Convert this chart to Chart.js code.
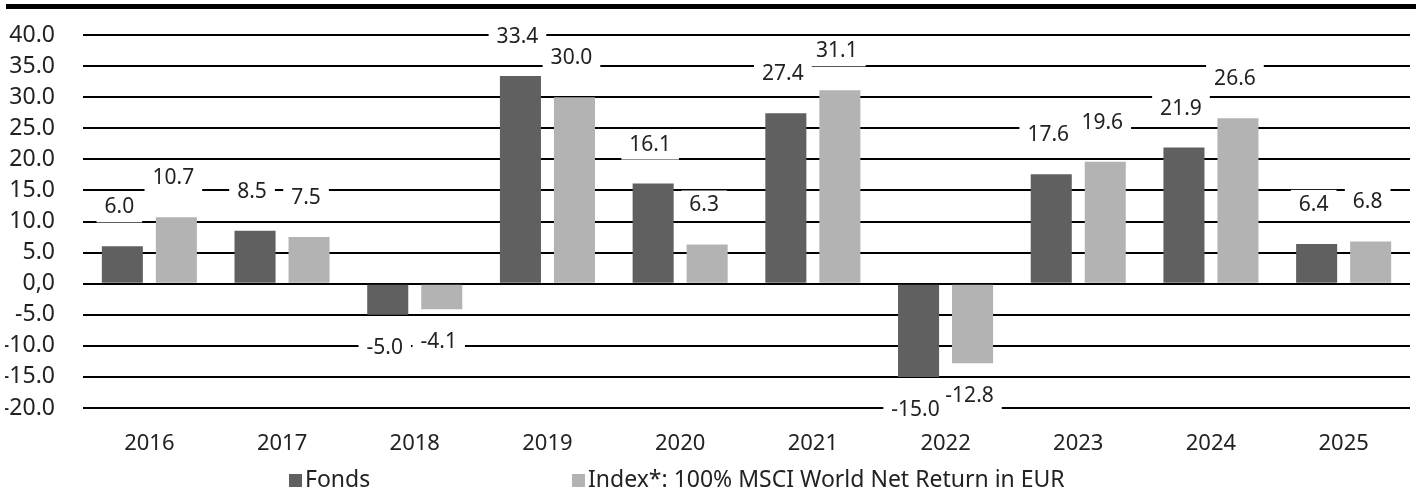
<!DOCTYPE html>
<html>
<head>
<meta charset="utf-8">
<script src="https://cdn.jsdelivr.net/npm/chart.js@4.4.1/dist/chart.umd.min.js"></script>
<style>
  body { margin: 0; background: #fff; }
  #wrap { width: 1416px; height: 495px; position: relative; }
</style>
</head>
<body>
<div id="wrap"><canvas id="perfChart" width="1416" height="495"></canvas></div>
<script>
const years = ['2016', '2017', '2018', '2019', '2020', '2021', '2022', '2023', '2024', '2025'];
const fondsValues = [6.0, 8.5, -5.0, 33.4, 16.1, 27.4, -15.0, 17.6, 21.9, 6.4];
const indexValues = [10.7, 7.5, -4.1, 30.0, 6.3, 31.1, -12.8, 19.6, 26.6, 6.8];
const seriesNames = ['Fonds', 'Index*: 100% MSCI World Net Return in EUR'];
const yMin = -20;
const yMax = 40;
const yStep = 5;

const FONT = '"Noto Sans", "Open Sans", sans-serif';
const TEXT_COLOR = '#222';

// top black rule
const topRule = {
    id: 'topRule',
    beforeDraw(chart) {
        const ctx = chart.ctx;
        ctx.save();
        ctx.fillStyle = '#000';
        ctx.fillRect(6, 4, chart.width - 6, 5);
        ctx.restore();
    }
};

// value labels, white box behind each, boxes first then text
const valueLabels = {
    id: 'valueLabels',
    afterDatasetsDraw(chart) {
        const ctx = chart.ctx;
        ctx.save();
        ctx.font = '21px ' + FONT;
        ctx.textAlign = 'center';
        ctx.textBaseline = 'middle';
        const items = [];
        chart.data.datasets.forEach((ds, i) => {
            const meta = chart.getDatasetMeta(i);
            meta.data.forEach((bar, j) => {
                const v = ds.data[j];
                const txt = v.toFixed(1);
                items.push({
                    txt: txt,
                    x: bar.x - 3,
                    y: v >= 0 ? bar.y - 39 : bar.y + 33,
                    w: ctx.measureText(txt).width + 16
                });
            });
        });
        ctx.fillStyle = '#fff';
        items.forEach(it => ctx.fillRect(it.x - it.w / 2, it.y - 15, it.w, 30));
        ctx.fillStyle = TEXT_COLOR;
        items.forEach(it => ctx.fillText(it.txt, it.x, it.y));
        ctx.restore();
    }
};

// legend at fixed spots under the axis
const bottomLegend = {
    id: 'bottomLegend',
    afterDraw(chart) {
        const ctx = chart.ctx;
        const spots = [289, 572];
        ctx.save();
        ctx.font = '23px ' + FONT;
        ctx.textBaseline = 'middle';
        ctx.textAlign = 'left';
        chart.data.datasets.forEach((ds, i) => {
            const x = spots[i];
            ctx.fillStyle = ds.backgroundColor;
            ctx.fillRect(x, 474, 13, 13);
            ctx.fillStyle = TEXT_COLOR;
            ctx.fillText(ds.label, x + 16, 480);
        });
        ctx.restore();
    }
};

const ctx = document.getElementById('perfChart').getContext('2d');
const chart = new Chart(ctx, {
    type: 'bar',
    data: {
        labels: years,
        datasets: [
            {
                label: seriesNames[0],
                data: fondsValues,
                backgroundColor: '#606060',
                barPercentage: 0.76,
                categoryPercentage: 0.814,
            },
            {
                label: seriesNames[1],
                data: indexValues,
                backgroundColor: '#b3b3b3',
                barPercentage: 0.76,
                categoryPercentage: 0.814,
            }
        ]
    },
    options: {
        responsive: false,
        animation: false,
        layout: {
            padding: { left: 5, right: 6, top: 35, bottom: 0 }
        },
        plugins: {
            legend: { display: false },
            tooltip: { enabled: false }
        },
        scales: {
            x: {
                grid: { display: false },
                border: { display: false },
                ticks: {
                    color: TEXT_COLOR,
                    font: { family: FONT, size: 22 },
                    padding: 15,
                },
                afterFit: (scale) => { scale.height = 87; }
            },
            y: {
                min: yMin,
                max: yMax,
                border: { display: false },
                grid: {
                    color: '#000',
                    lineWidth: 2,
                    drawTicks: false,
                },
                ticks: {
                    stepSize: yStep,
                    autoSkip: false,
                    color: TEXT_COLOR,
                    font: { family: FONT, size: 23 },
                    padding: 28,
                    callback: (value) => value === 0 ? '0,0' : value.toFixed(1)
                },
                afterFit: (scale) => {
                    scale.width = 78;
                    scale.paddingTop = 0;
                    scale.paddingBottom = 0;
                }
            }
        }
    },
    plugins: [topRule, valueLabels, bottomLegend]
});
</script>
</body>
</html>
